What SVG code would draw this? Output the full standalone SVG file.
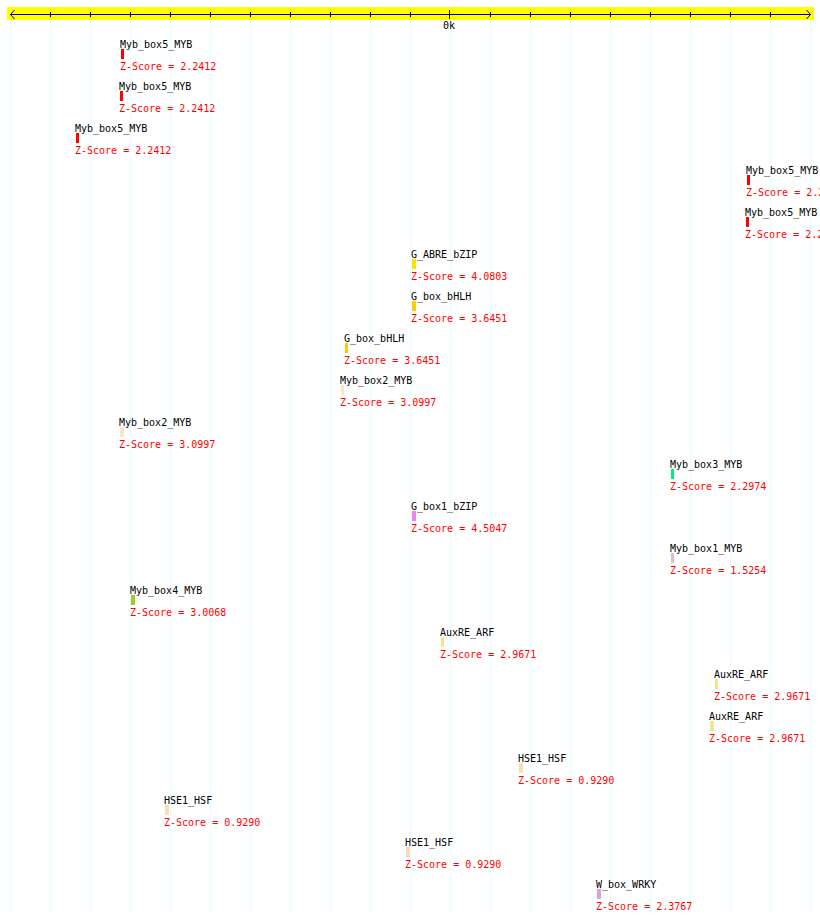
<svg xmlns="http://www.w3.org/2000/svg" width="820" height="923" viewBox="0 0 820 923">
<style>
.grid{stroke:#e0ffff;stroke-width:1}
.ax{stroke:#000;stroke-width:1;fill:none}
.lbl{font-family:"DejaVu Sans Mono","Liberation Mono",monospace;font-size:10px;fill:#000}
.z{font-family:"DejaVu Sans Mono","Liberation Mono",monospace;font-size:10px;fill:#ff0000}
</style>
<rect width="820" height="923" fill="#fff"/>
<g id="grid">
<line class="grid" x1="10.5" y1="20" x2="10.5" y2="913"/>
<line class="grid" x1="50.5" y1="20" x2="50.5" y2="913"/>
<line class="grid" x1="90.5" y1="20" x2="90.5" y2="913"/>
<line class="grid" x1="130.5" y1="20" x2="130.5" y2="913"/>
<line class="grid" x1="170.5" y1="20" x2="170.5" y2="913"/>
<line class="grid" x1="210.5" y1="20" x2="210.5" y2="913"/>
<line class="grid" x1="250.5" y1="20" x2="250.5" y2="913"/>
<line class="grid" x1="290.5" y1="20" x2="290.5" y2="913"/>
<line class="grid" x1="330.5" y1="20" x2="330.5" y2="913"/>
<line class="grid" x1="370.5" y1="20" x2="370.5" y2="913"/>
<line class="grid" x1="410.5" y1="20" x2="410.5" y2="913"/>
<line class="grid" x1="450.5" y1="20" x2="450.5" y2="913"/>
<line class="grid" x1="490.5" y1="20" x2="490.5" y2="913"/>
<line class="grid" x1="530.5" y1="20" x2="530.5" y2="913"/>
<line class="grid" x1="570.5" y1="20" x2="570.5" y2="913"/>
<line class="grid" x1="610.5" y1="20" x2="610.5" y2="913"/>
<line class="grid" x1="650.5" y1="20" x2="650.5" y2="913"/>
<line class="grid" x1="690.5" y1="20" x2="690.5" y2="913"/>
<line class="grid" x1="730.5" y1="20" x2="730.5" y2="913"/>
<line class="grid" x1="770.5" y1="20" x2="770.5" y2="913"/>
<line class="grid" x1="810.5" y1="20" x2="810.5" y2="913"/>
</g>
<g id="axis">
<rect x="7" y="7" width="807" height="13" fill="#ffff00"/>
<line class="ax" x1="10" y1="14.5" x2="811" y2="14.5"/>
<polyline class="ax" points="14.5,10 10.5,14.5 14.5,19"/>
<polyline class="ax" points="806.5,10 810.5,14.5 806.5,19"/>
<path class="ax" d="M50.5 12v5M90.5 12v5M130.5 12v5M170.5 12v5M210.5 12v5M250.5 12v5M290.5 12v5M330.5 12v5M370.5 12v5M410.5 12v5M490.5 12v5M530.5 12v5M570.5 12v5M610.5 12v5M650.5 12v5M690.5 12v5M730.5 12v5M770.5 12v5"/>
<line class="ax" x1="449.5" y1="10" x2="449.5" y2="19"/>
<text class="lbl" x="443" y="29">0k</text>
</g>
<g id="f1"><text class="lbl" x="120" y="48">Myb_box5_MYB</text><rect x="121" y="49" width="3" height="10" fill="#ff0000"/><text class="z" x="120" y="70">Z-Score = 2.2412</text></g>
<g id="f2"><text class="lbl" x="119" y="90">Myb_box5_MYB</text><rect x="120" y="91" width="3" height="10" fill="#ff0000"/><text class="z" x="119" y="112">Z-Score = 2.2412</text></g>
<g id="f3"><text class="lbl" x="75" y="132">Myb_box5_MYB</text><rect x="76" y="133" width="3" height="10" fill="#ff0000"/><text class="z" x="75" y="154">Z-Score = 2.2412</text></g>
<g id="f4"><text class="lbl" x="746" y="174">Myb_box5_MYB</text><rect x="747" y="175" width="3" height="10" fill="#ff0000"/><text class="z" x="746" y="196">Z-Score = 2.2412</text></g>
<g id="f5"><text class="lbl" x="745" y="216">Myb_box5_MYB</text><rect x="746" y="217" width="3" height="10" fill="#ff0000"/><text class="z" x="745" y="238">Z-Score = 2.2412</text></g>
<g id="f6"><text class="lbl" x="411" y="258">G_ABRE_bZIP</text><rect x="412" y="259" width="4" height="10" fill="#ffe000"/><text class="z" x="411" y="280">Z-Score = 4.0803</text></g>
<g id="f7"><text class="lbl" x="411" y="300">G_box_bHLH</text><rect x="412" y="301" width="4" height="10" fill="#ffcc00"/><text class="z" x="411" y="322">Z-Score = 3.6451</text></g>
<g id="f8"><text class="lbl" x="344" y="342">G_box_bHLH</text><rect x="345" y="343" width="3" height="10" fill="#ffcc00"/><text class="z" x="344" y="364">Z-Score = 3.6451</text></g>
<g id="f9"><text class="lbl" x="340" y="384">Myb_box2_MYB</text><rect x="341" y="385" width="3" height="10" fill="#ffe4c4"/><text class="z" x="340" y="406">Z-Score = 3.0997</text></g>
<g id="f10"><text class="lbl" x="119" y="426">Myb_box2_MYB</text><rect x="120" y="427" width="4" height="10" fill="#ffe4c4"/><text class="z" x="119" y="448">Z-Score = 3.0997</text></g>
<g id="f11"><text class="lbl" x="670" y="468">Myb_box3_MYB</text><rect x="671" y="469" width="3" height="10" fill="#00ee76"/><text class="z" x="670" y="490">Z-Score = 2.2974</text></g>
<g id="f12"><text class="lbl" x="411" y="510">G_box1_bZIP</text><rect x="412" y="511" width="4" height="10" fill="#ee82ee"/><text class="z" x="411" y="532">Z-Score = 4.5047</text></g>
<g id="f13"><text class="lbl" x="670" y="552">Myb_box1_MYB</text><rect x="671" y="553" width="3" height="10" fill="#d8bfd8"/><text class="z" x="670" y="574">Z-Score = 1.5254</text></g>
<g id="f14"><text class="lbl" x="130" y="594">Myb_box4_MYB</text><rect x="131" y="595" width="4" height="10" fill="#9acd32"/><text class="z" x="130" y="616">Z-Score = 3.0068</text></g>
<g id="f15"><text class="lbl" x="440" y="636">AuxRE_ARF</text><rect x="441" y="637" width="3" height="10" fill="#f0e68c"/><text class="z" x="440" y="658">Z-Score = 2.9671</text></g>
<g id="f16"><text class="lbl" x="714" y="678">AuxRE_ARF</text><rect x="715" y="679" width="3" height="10" fill="#f0e68c"/><text class="z" x="714" y="700">Z-Score = 2.9671</text></g>
<g id="f17"><text class="lbl" x="709" y="720">AuxRE_ARF</text><rect x="710" y="721" width="4" height="10" fill="#f0e68c"/><text class="z" x="709" y="742">Z-Score = 2.9671</text></g>
<g id="f18"><text class="lbl" x="518" y="762">HSE1_HSF</text><rect x="519" y="763" width="4" height="10" fill="#f5deb3"/><text class="z" x="518" y="784">Z-Score = 0.9290</text></g>
<g id="f19"><text class="lbl" x="164" y="804">HSE1_HSF</text><rect x="165" y="805" width="4" height="10" fill="#f5deb3"/><text class="z" x="164" y="826">Z-Score = 0.9290</text></g>
<g id="f20"><text class="lbl" x="405" y="846">HSE1_HSF</text><rect x="406" y="847" width="4" height="10" fill="#f5deb3"/><text class="z" x="405" y="868">Z-Score = 0.9290</text></g>
<g id="f21"><text class="lbl" x="596" y="888">W_box_WRKY</text><rect x="597" y="889" width="4" height="10" fill="#dda0dd"/><text class="z" x="596" y="910">Z-Score = 2.3767</text></g>
</svg>
